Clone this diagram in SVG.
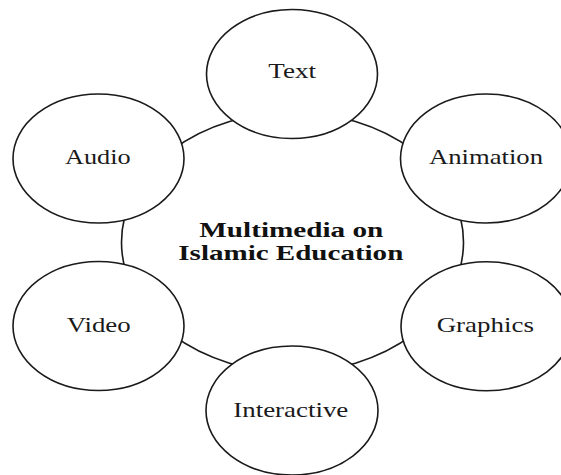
<svg xmlns="http://www.w3.org/2000/svg" width="561" height="475" viewBox="0 0 561 475">
  <style>
    .shape { fill: #ffffff; stroke: #1a1a1a; stroke-width: 1.6; }
    .lbl { font-family: "Liberation Serif", "Times New Roman", serif; font-size: 21px; fill: #1a1a1a; text-anchor: middle; }
    .title { font-family: "Liberation Serif", "Times New Roman", serif; font-size: 21px; font-weight: bold; fill: #111111; text-anchor: middle; }
  </style>
  <rect x="0" y="0" width="561" height="475" fill="#ffffff"/>
  <g id="center">
    <ellipse class="shape" cx="292.5" cy="242.3" rx="171" ry="130"/>
    <text class="title" x="291.3" y="236.7" textLength="184" lengthAdjust="spacingAndGlyphs">Multimedia on</text>
    <text class="title" x="290.8" y="260" textLength="225" lengthAdjust="spacingAndGlyphs">Islamic Education</text>
  </g>
  <g id="connectors"></g>
  <g id="text-node">
    <ellipse class="shape" cx="292" cy="74" rx="85.5" ry="64.5"/>
    <text class="lbl" x="292.2" y="78.3" textLength="47.7" lengthAdjust="spacingAndGlyphs">Text</text>
  </g>
  <g id="audio">
    <ellipse class="shape" cx="98.5" cy="158.5" rx="85.5" ry="64.5"/>
    <text class="lbl" x="97.8" y="164" textLength="65.7" lengthAdjust="spacingAndGlyphs">Audio</text>
  </g>
  <g id="animation">
    <ellipse class="shape" cx="486" cy="158.5" rx="85.5" ry="64.5"/>
    <text class="lbl" x="486" y="164" textLength="114" lengthAdjust="spacingAndGlyphs">Animation</text>
  </g>
  <g id="video">
    <ellipse class="shape" cx="98.5" cy="326" rx="85.5" ry="64.5"/>
    <text class="lbl" x="98.7" y="332.3" textLength="64" lengthAdjust="spacingAndGlyphs">Video</text>
  </g>
  <g id="graphics">
    <ellipse class="shape" cx="486.5" cy="326.3" rx="85.5" ry="64.5"/>
    <text class="lbl" x="485.3" y="331.7" textLength="97.3" lengthAdjust="spacingAndGlyphs">Graphics</text>
  </g>
  <g id="interactive">
    <ellipse class="shape" cx="292" cy="410.5" rx="86" ry="64.5"/>
    <text class="lbl" x="290.8" y="417.3" textLength="115" lengthAdjust="spacingAndGlyphs">Interactive</text>
  </g>
</svg>
